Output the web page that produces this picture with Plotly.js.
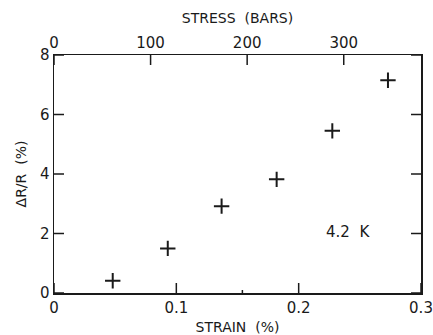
<!DOCTYPE html>
<html>
<head>
<meta charset="utf-8">
<script src="https://cdn.plot.ly/plotly-3.0.1.min.js"></script>
<style>html,body{margin:0;padding:0;background:#fff;}#chart{width:433px;height:335px;}</style>
</head>
<body>
<div id="chart"></div>
<script>
// Data
var strain = [0.048, 0.093, 0.137, 0.182, 0.2275, 0.273];
var deltaR = [0.41, 1.50, 2.92, 3.82, 5.45, 7.15];

// Axis ticks
var strainTicks = [0, 0.1, 0.2, 0.3];
var strainLabels = ["0", "0.1", "0.2", "0.3"];
var strainMinorTicks = [0.154];
var stressTicks = [0, 100, 200, 300];
var stressLabels = ["0", "100", "200", "300"];
var drTicks = [0, 2, 4, 6, 8];
var drLabels = ["0", "2", "4", "6", "8"];

var strainRange = [0, 0.3];
var stressRange = [0, 380];
var drRange = [0, 8];

var ink = '#1a1a1a';
var fam = 'DejaVu Sans, sans-serif';
var font = {family: fam, size: 14, color: ink};

// Plot-area size (433-54-12 by 335-55-42) used to turn a 10 px tick length into axis units
var plotW = 433 - 54 - 12, plotH = 335 - 55 - 42, TLpx = 10;
var tlY = TLpx * (drRange[1] - drRange[0]) / plotH;
var tlX = TLpx * (strainRange[1] - strainRange[0]) / plotW;

// Inward tick marks, built from the tick arrays
function vTicks(vals, base, len) {
  var xs = [], ys = [];
  vals.forEach(function (v) { xs.push(v, v, null); ys.push(base, base + len, null); });
  return {x: xs, y: ys};
}
function hTicks(vals, base, len) {
  var xs = [], ys = [];
  vals.forEach(function (v) { xs.push(base, base + len, null); ys.push(v, v, null); });
  return {x: xs, y: ys};
}
var bottomT = vTicks(strainTicks, drRange[0], tlY);
var minorT = vTicks(strainMinorTicks, drRange[0], tlY * 0.3);
var topT = vTicks(stressTicks, drRange[1], -tlY);
var leftT = hTicks(drTicks, strainRange[0], tlX);
var rightT = hTicks(drTicks, strainRange[1], -tlX);

function tickTrace(t, xa) {
  return {x: t.x, y: t.y, type: 'scatter', mode: 'lines', xaxis: xa, yaxis: 'y',
    line: {color: ink, width: 1.5}, hoverinfo: 'skip', showlegend: false, connectgaps: false};
}

var traces = [
  tickTrace(bottomT, 'x'), tickTrace(minorT, 'x'), tickTrace(leftT, 'x'), tickTrace(rightT, 'x'),
  tickTrace(topT, 'x2'),
  {
    x: strain, y: deltaR, type: 'scatter', mode: 'markers',
    marker: {symbol: 'cross-thin-open', size: 11, color: ink, line: {color: ink, width: 2}},
    xaxis: 'x', yaxis: 'y', hoverinfo: 'skip', showlegend: false
  }
];

var layout = {
  width: 433, height: 335,
  margin: {l: 54, r: 12, t: 55, b: 42},
  paper_bgcolor: '#fff', plot_bgcolor: '#fff',
  font: font,
  showlegend: false,
  xaxis: {
    range: strainRange, tickmode: 'array', tickvals: strainTicks, ticktext: strainLabels,
    ticks: '',
    showline: true, linewidth: 1.5, linecolor: ink, mirror: true,
    showgrid: false, zeroline: false,
    tickfont: {family: fam, size: 15, color: ink},
    title: {text: 'STRAIN\u00a0\u00a0(%)', font: {family: fam, size: 14, color: ink}, standoff: 6}
  },
  xaxis2: {
    overlaying: 'x', side: 'top', anchor: 'y',
    range: stressRange, tickmode: 'array', tickvals: stressTicks, ticktext: stressLabels,
    ticks: '',
    showline: true, linewidth: 1.5, linecolor: ink,
    showgrid: false, zeroline: false,
    tickfont: {family: fam, size: 15, color: ink},
    title: {text: 'STRESS\u00a0\u00a0(BARS)', font: {family: fam, size: 14, color: ink}, standoff: 6}
  },
  yaxis: {
    range: drRange, tickmode: 'array', tickvals: drTicks, ticktext: drLabels,
    ticks: '',
    showline: true, linewidth: 1.5, linecolor: ink, mirror: true,
    showgrid: false, zeroline: false,
    tickfont: {family: fam, size: 15, color: ink},
    title: {text: '\u0394R/R\u00a0\u00a0(%)', font: {family: fam, size: 14, color: ink}, standoff: 10}
  },
  annotations: [{
    x: 0.2404, y: 2.06, xref: 'x', yref: 'y', text: '4.2\u00a0\u00a0K', showarrow: false,
    font: {family: fam, size: 15, color: ink}
  }]
};

Plotly.newPlot('chart', traces, layout, {staticPlot: true, displayModeBar: false});
</script>
</body>
</html>
